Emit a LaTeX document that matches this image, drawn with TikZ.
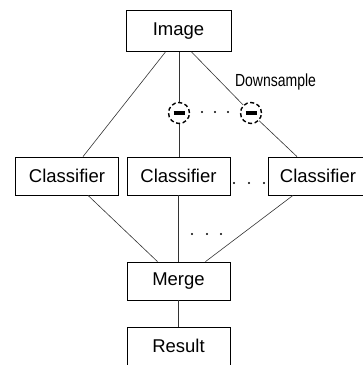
\documentclass[tikz,border=0pt]{standalone}
\usepackage{fontspec}
\setmainfont{Liberation Sans}
\newfontfamily\narrowfont[FakeStretch=0.8]{Liberation Sans}
\usepackage{tikz}

\tikzset{
  stagebox/.style={draw, line width=0.8pt, minimum width=103pt, minimum height=38pt,
    inner sep=0pt, font=\fontsize{18.5}{21}\selectfont},
  sampler/.style={circle, draw, dashed, dash pattern=on 4pt off 2.6pt, line width=1.4pt,
    minimum size=21pt, inner sep=0pt,
    path picture={\draw[solid, line width=3.6pt]
      ([xshift=-5.5pt]path picture bounding box.center) -- ++(11pt,0);}},
  link/.style={line width=0.6pt, black!80}
}

\begin{document}
\begin{tikzpicture}[x=1pt, y=-1pt]
\useasboundingbox (0,0) rectangle (363,365);
\clip (0,0) rectangle (363,365);
\node[stagebox, minimum height=41pt, minimum width=105pt] (img) at (178.5,31) {Image};
\node[stagebox] (cls1) at (67,176) {Classifier};
\node[stagebox] (cls2) at (178.5,176) {Classifier};
\node[stagebox, minimum width=100pt] (cls3) at (318,176) {Classifier};
\node[stagebox] (merge) at (178.5,281) {Merge};
\node[stagebox] (result) at (178.5,346) {Result};
\node[sampler] (ds1) at (179,113) {};
\node[sampler] (ds2) at (251,113) {};
\node[font=\narrowfont\fontsize{17.5}{20}\selectfont, anchor=base] (dslabel) at (275.5,86) {Downsample};

% image to classifiers
\draw[link] ([xshift=-13pt]img.south) -- ([xshift=16pt]cls1.north);
\draw[link] (img.south -| ds1) -- (ds1) -- (ds1 |- cls2.north);
\draw[link] ([xshift=13pt]img.south) -- (ds2);
\draw[link] (ds2) -- ([xshift=-21pt]cls3.north);

% classifiers to merge
\draw[link] ([xshift=21pt]cls1.south) -- ([xshift=-21pt]merge.north);
\draw[link] (cls2.south) -- (merge.north);
\draw[link] ([xshift=-25pt]cls3.south) -- ([xshift=27pt]merge.north);
\draw[link] (merge) -- (result);

% dots
\foreach \x in {202,215,228} \fill (\x,112) circle (1.1pt);
\foreach \x in {234,249,264} \fill (\x,183) circle (1.1pt);
\foreach \x in {192,207,221} \fill (\x,234) circle (1.1pt);
\end{tikzpicture}
\end{document}
